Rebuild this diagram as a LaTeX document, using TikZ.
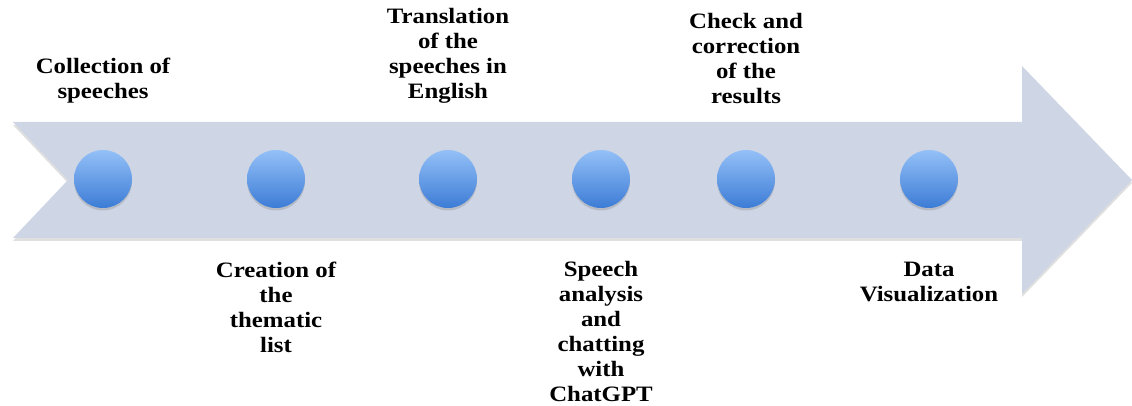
\documentclass[tikz,border=0pt]{standalone}
\usepackage{fontspec}
\newfontfamily\stepfont[FakeStretch=1.13]{Liberation Serif}
\usepackage{xcolor}
\usetikzlibrary{positioning,shadows}

\definecolor{arrowfill}{RGB}{206,213,229}
\definecolor{dottop}{RGB}{148,192,247}
\definecolor{dotbot}{RGB}{60,124,214}

\begin{document}
\begin{tikzpicture}[
    dot/.style={circle, minimum size=1.16cm, inner sep=0pt, top color=dottop, bottom color=dotbot,
        drop shadow={opacity=0.3, shadow xshift=0pt, shadow yshift=-0.05cm}},
    lbl/.style={align=center, inner sep=0pt, font=\stepfont\fontsize{12.5}{14.2}\selectfont\bfseries}
]
    \useasboundingbox (0,0) rectangle (22.64,8.12);

    % the big arrow with notched tail
    \fill[arrowfill, drop shadow={opacity=0.25, shadow xshift=0pt, shadow yshift=-0.06cm}]
        (0.26,5.68) -- (20.44,5.68) -- (20.44,6.80) -- (22.64,4.52) -- (20.44,2.24)
        -- (20.44,3.36) -- (0.26,3.36) -- (1.36,4.52) -- cycle;

    \foreach \x [count=\i] in {2.06,5.52,8.96,12.02,14.92,18.58}
        \node[dot] (c\i) at (\x,4.54) {};

    % steps, alternating above and below
    \node[lbl, above=0.92 of c1] (t1) {Collection of\\speeches};
    \node[lbl, below=1.06 of c2] (t2) {Creation of\\the\\thematic\\list};
    \node[lbl, above=0.92 of c3] (t3) {Translation\\of the\\speeches in\\English};
    \node[lbl, below=1.06 of c4] (t4) {Speech\\analysis\\and\\chatting\\with\\ChatGPT};
    \node[lbl, above=0.92 of c5] (t5) {Check and\\correction\\of the\\results};
    \node[lbl, below=1.06 of c6] (t6) {Data\\Visualization};
\end{tikzpicture}
\end{document}
